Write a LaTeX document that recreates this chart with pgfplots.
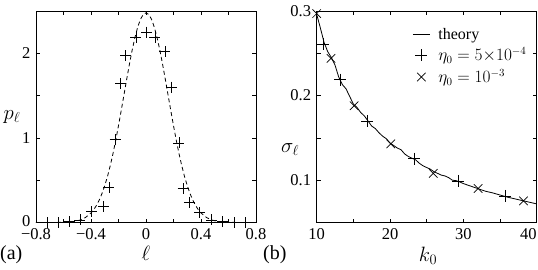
\documentclass[border=0pt]{standalone}
\usepackage{fontspec}
\setmainfont{Liberation Serif}
\usepackage{pgfplots}
\pgfplotsset{compat=1.18}
\newcommand{\lab}{\fontsize{20}{24}\selectfont}
\newcommand{\tl}{\fontsize{16.5}{20}\selectfont}
\begin{document}
\fontsize{16}{19}\selectfont
\begin{tikzpicture}
\useasboundingbox (-36pt,-46.5pt) rectangle (502pt,222.5pt);
\pgfplotsset{
  every axis/.append style={
    scale only axis, width=220pt, height=211.5pt,
    axis line style={line width=0.9pt},
    tick align=inside, tick style={line width=0.6pt, black},
    major tick length=4pt, minor tick length=4pt,
    xtick pos=both, ytick pos=both,
    tick label style={font=\tl, inner sep=0pt},
    xticklabel style={yshift=-6pt},
    yticklabel style={xshift=-5.5pt},
  }
}
% ---------- (a) ----------
\begin{axis}[
  at={(0pt,0pt)}, anchor=south west,
  xmin=-0.8, xmax=0.8, ymin=0, ymax=2.5,
  xtick={-0.8,-0.4,0,0.4,0.8},
  xticklabels={−0.8,−0.4,0,0.4,0.8},
  minor xtick={-0.6,-0.2,0.2,0.6},
  ytick={0,1,2}, yticklabels={\raisebox{3pt}{0},1,2},
  minor ytick={0.5,1.5},
  clip=false,
]
\addplot[black, line width=0.8pt, dash pattern=on 4pt off 3pt] coordinates {
(-0.80,0) (-0.70,0.0002) (-0.60,0.002) (-0.56,0.006) (-0.52,0.013) (-0.48,0.029) (-0.44,0.059)
(-0.40,0.113) (-0.38,0.152) (-0.36,0.203) (-0.34,0.266) (-0.32,0.343) (-0.30,0.436)
(-0.28,0.545) (-0.26,0.672) (-0.24,0.815) (-0.22,0.973) (-0.20,1.145) (-0.18,1.326)
(-0.16,1.511) (-0.14,1.697) (-0.12,1.876) (-0.10,2.043) (-0.08,2.190) (-0.06,2.311)
(-0.04,2.403) (-0.02,2.459) (0,2.478)
(0.02,2.459) (0.04,2.403) (0.06,2.311) (0.08,2.190) (0.10,2.043) (0.12,1.876)
(0.14,1.697) (0.16,1.511) (0.18,1.326) (0.20,1.145) (0.22,0.973) (0.24,0.815)
(0.26,0.672) (0.28,0.545) (0.30,0.436) (0.32,0.343) (0.34,0.266) (0.36,0.203)
(0.38,0.152) (0.40,0.113) (0.44,0.059) (0.48,0.029) (0.52,0.013) (0.56,0.006)
(0.60,0.002) (0.70,0.0002) (0.80,0)
};
\addplot[black, only marks, mark=+, mark size=5.5pt, mark options={line width=0.7pt}] coordinates {
(-0.72,0) (-0.64,0) (-0.56,0.01) (-0.48,0.03) (-0.395,0.13) (-0.31,0.19)
(-0.27,0.41) (-0.225,0.98) (-0.185,1.64) (-0.148,1.97) (-0.073,2.19) (0.005,2.25)
(0.065,2.19) (0.138,2.02) (0.187,1.60) (0.24,0.94) (0.27,0.40) (0.315,0.24)
(0.39,0.12) (0.478,0.03) (0.558,0.01) (0.64,0) (0.725,0)
};
\node[font=\lab] at (rel axis cs:0.5,0) [yshift=-31pt] {$\ell$};
\node[font=\lab] at (rel axis cs:0,0.5) [xshift=-24pt] {$p_\ell$};
\node[font=\lab, anchor=west, inner sep=0pt] at (rel axis cs:0,0) [xshift=-36pt, yshift=-32pt] {(a)};
\end{axis}
% ---------- (b) ----------
\begin{axis}[
  at={(280.7pt,0pt)}, anchor=south west,
  xmin=10, xmax=40, ymin=0.05, ymax=0.3,
  xtick={10,20,30,40}, xticklabels={10,20,30,\llap{40}},
  minor xtick={15,25,35},
  ytick={0.1,0.2,0.3}, yticklabels={0.1,0.2,0.3},
  minor ytick={0.15,0.25},
  clip=false,
  legend style={draw=none, fill=none, at={(rel axis cs:0.43,0.935)}, anchor=north west,
    row sep=2pt, inner sep=1pt, /tikz/column 1/.style={column sep=6pt}},
  legend cell align=left,
]
\addplot[black, line width=0.8pt] coordinates {
(10,0.296) (10.5,0.280) (11,0.263) (11.5,0.252) (12,0.245) (12.5,0.236) (13,0.222)
(13.5,0.213) (14,0.208) (14.5,0.199) (15,0.190) (15.5,0.186) (16,0.180) (16.5,0.176)
(17,0.170) (17.5,0.164) (18,0.161) (18.5,0.156) (19,0.152) (19.5,0.149) (20,0.144)
(20.5,0.141) (21,0.138) (21.5,0.136) (22,0.131) (22.5,0.128) (23,0.126) (23.5,0.124)
(24,0.120) (24.5,0.117) (25,0.115) (25.5,0.113) (26,0.110) (26.5,0.108) (27,0.106)
(27.5,0.105) (28,0.103) (28.5,0.100) (29,0.0995) (29.5,0.098) (30,0.096) (31,0.093)
(32,0.090) (33,0.087) (34,0.085) (35,0.0825) (36,0.080) (37,0.078) (38,0.076)
(39,0.074) (40,0.072)
};
\addlegendentry{theory}
\addplot[black, only marks, mark=+, mark size=6pt, mark options={line width=0.7pt}] coordinates {
(10.9,0.261) (13.2,0.219) (16.9,0.170) (23.3,0.1255) (29.3,0.0992) (35.7,0.0815)
};
\addlegendentry{$\eta_0 = 5{\times}10^{-4}$}
\addplot[black, only marks, mark=x, mark size=6pt, mark options={line width=0.7pt}] coordinates {
(10,0.297) (11.95,0.244) (15.1,0.188) (20.1,0.143) (25.9,0.108) (32.0,0.0902) (38.2,0.0756)
};
\addlegendentry{$\eta_0 = 10^{-3}$}
\node[font=\lab] at (rel axis cs:0.506,0) [yshift=-33pt] {$k_0$};
\node[font=\lab] at (rel axis cs:0,0.343) [xshift=-26.7pt] {$\sigma_\ell$};
\node[font=\lab, anchor=west, inner sep=0pt] at (rel axis cs:0,0) [xshift=-53.7pt, yshift=-32pt] {(b)};
\end{axis}
\end{tikzpicture}
\end{document}
